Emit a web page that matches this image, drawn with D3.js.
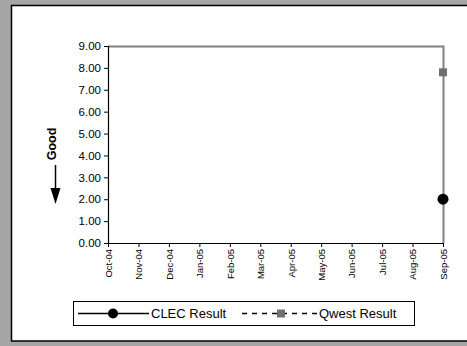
<!DOCTYPE html>
<html>
<head>
<meta charset="utf-8">
<script src="https://cdn.jsdelivr.net/npm/d3@7"></script>
<style>
    body { margin: 0; background: #a6a6a6; }
    svg { display: block; font-family: "Liberation Sans", Arial, sans-serif; }
</style>
</head>
<body>
<svg id="chart" width="467" height="346"></svg>
<script>
// Chart data
const months = ['Oct-04', 'Nov-04', 'Dec-04', 'Jan-05', 'Feb-05', 'Mar-05',
    'Apr-05', 'May-05', 'Jun-05', 'Jul-05', 'Aug-05', 'Sep-05'];
const clecResult = [null, null, null, null, null, null, null, null, null, null, null, 2.00];
const qwestResult = [null, null, null, null, null, null, null, null, null, null, null, 7.80];
const yTicks = [0, 1, 2, 3, 4, 5, 6, 7, 8, 9];
const legendLabels = ['CLEC Result', 'Qwest Result'];

const svg = d3.select('#chart');

// White panel with black frame (runs off the right edge)
svg.append('rect')
    .attr('x', 11.5).attr('y', 5.5)
    .attr('width', 470).attr('height', 335.5)
    .attr('fill', '#fff')
    .attr('stroke', '#000')
    .attr('stroke-width', 1.5);

const plot = { left: 108, right: 443, top: 46, bottom: 243 };

const x = d3.scalePoint()
    .domain(months)
    .range([plot.left, plot.right]);

const y = d3.scaleLinear()
    .domain([0, 9])
    .range([plot.bottom, plot.top]);

// Gray top/right border of plot area
svg.append('path')
    .attr('d', `M${plot.left},${plot.top + 0.5}H${plot.right + 0.5}V${plot.bottom}`)
    .attr('fill', 'none')
    .attr('stroke', '#808080')
    .attr('stroke-width', 2);

// Y axis
const yAxis = svg.append('g')
    .attr('transform', `translate(${plot.left},0)`)
    .call(d3.axisLeft(y).tickValues(yTicks).tickFormat(d3.format('.2f')).tickSize(4).tickPadding(3));
yAxis.select('.domain').attr('stroke', '#000').attr('stroke-width', 1.2);
yAxis.selectAll('text').attr('font-size', 11.5).attr('fill', '#000')
    .attr('font-family', '"Liberation Sans", Arial, sans-serif');

// X axis
const xAxis = svg.append('g')
    .attr('transform', `translate(0,${plot.bottom})`)
    .call(d3.axisBottom(x).tickSize(4).tickSizeOuter(0));
xAxis.select('.domain').attr('stroke', '#000').attr('stroke-width', 1.2);
xAxis.selectAll('text')
    .attr('font-size', 9.5)
    .attr('fill', '#000')
    .attr('font-family', '"Liberation Sans", Arial, sans-serif')
    .attr('text-anchor', 'end')
    .attr('dy', '0.35em')
    .attr('transform', 'translate(0,2) rotate(-90)')
    .attr('x', -4)
    .attr('y', 0);

// Series
const clecPts = months.map((m, i) => ({ m, v: clecResult[i] })).filter(d => d.v != null);
const qwestPts = months.map((m, i) => ({ m, v: qwestResult[i] })).filter(d => d.v != null);

const line = d3.line().defined(d => d.v != null).x(d => x(d.m)).y(d => y(d.v));
svg.append('path')
    .datum(months.map((m, i) => ({ m, v: clecResult[i] })))
    .attr('d', line).attr('fill', 'none').attr('stroke', '#000').attr('stroke-width', 1.5);
svg.append('path')
    .datum(months.map((m, i) => ({ m, v: qwestResult[i] })))
    .attr('d', line).attr('fill', 'none').attr('stroke', '#000')
    .attr('stroke-dasharray', '5,5').attr('stroke-width', 1.5);

svg.selectAll('.qwest').data(qwestPts).join('rect')
    .attr('class', 'qwest')
    .attr('x', d => x(d.m) - 4).attr('y', d => y(d.v) - 4)
    .attr('width', 8).attr('height', 8)
    .attr('fill', '#707070');

svg.selectAll('.clec').data(clecPts).join('circle')
    .attr('class', 'clec')
    .attr('cx', d => x(d.m)).attr('cy', d => y(d.v))
    .attr('r', 5.5)
    .attr('fill', '#000');

// "Good" indicator with down arrow
svg.append('text')
    .attr('transform', 'translate(56,144) rotate(-90)')
    .attr('text-anchor', 'middle')
    .attr('font-size', 12.5)
    .attr('font-weight', 'bold')
    .text('Good');
svg.append('line')
    .attr('x1', 55.5).attr('x2', 55.5)
    .attr('y1', 165).attr('y2', 190)
    .attr('stroke', '#000').attr('stroke-width', 1.5);
svg.append('path')
    .attr('d', 'M50.5,188L60.5,188L55.5,204Z')
    .attr('fill', '#000');

// Legend
const legend = svg.append('g');
legend.append('rect')
    .attr('x', 73.5).attr('y', 301.5)
    .attr('width', 341).attr('height', 24)
    .attr('fill', '#fff').attr('stroke', '#000').attr('stroke-width', 1);
const ly = 313.5;
legend.append('line').attr('x1', 78).attr('x2', 149).attr('y1', ly).attr('y2', ly)
    .attr('stroke', '#000').attr('stroke-width', 1.5);
legend.append('circle').attr('cx', 113).attr('cy', ly).attr('r', 5).attr('fill', '#000');
legend.append('text').attr('x', 151).attr('y', ly).attr('dy', '0.35em')
    .attr('font-size', 13).text(legendLabels[0]);
legend.append('line').attr('x1', 242).attr('x2', 318).attr('y1', ly).attr('y2', ly)
    .attr('stroke', '#000').attr('stroke-width', 1.5).attr('stroke-dasharray', '5,5');
legend.append('rect').attr('x', 277).attr('y', ly - 4).attr('width', 8).attr('height', 8)
    .attr('fill', '#707070');
legend.append('text').attr('x', 319).attr('y', ly).attr('dy', '0.35em')
    .attr('font-size', 13).text(legendLabels[1]);
</script>
</body>
</html>
